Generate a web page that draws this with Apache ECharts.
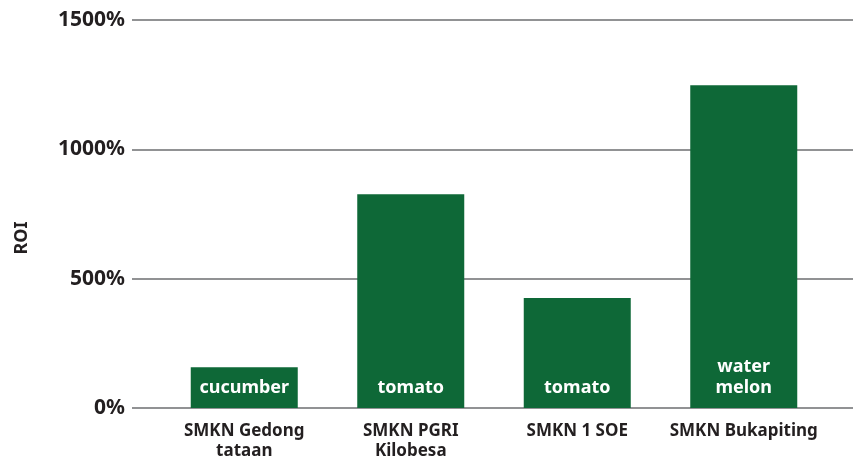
<!DOCTYPE html>
<html>
<head>
<meta charset="utf-8">
<script src="https://cdn.jsdelivr.net/npm/echarts@6/dist/echarts.min.js"></script>
<style>
  html, body { margin: 0; padding: 0; background: #fff; }
  #roiChart { width: 855px; height: 462px; }
</style>
</head>
<body>
<div id="roiChart"></div>
<script>
// data
var schools = ['SMKN Gedong\ntataan', 'SMKN PGRI\nKilobesa', 'SMKN 1 SOE', 'SMKN Bukapiting'];
var crops = ['cucumber', 'tomato', 'tomato', 'water\nmelon'];
var roiValues = [158, 826, 425, 1248];
var yTicks = [0, 500, 1000, 1500];

var textDark = '#231f20';
var barGreen = '#0e6837';
var fontFam = '"Noto Sans", "Open Sans", sans-serif';

var chart = echarts.init(document.getElementById('roiChart'));

var option = {
    animation: false,
    backgroundColor: '#fff',
    grid: [
        // bars
        { left: 161, right: 28, top: 20, bottom: 54 },
        // gridlines + tick labels (wider than the bar area)
        { left: 132, right: 2, top: 20, bottom: 54 }
    ],
    xAxis: [
        {
            type: 'category',
            gridIndex: 0,
            data: schools,
            axisLine: { show: false },
            axisTick: { show: false },
            axisLabel: {
                color: textDark,
                fontFamily: fontFam,
                fontSize: 17,
                fontWeight: 'bold',
                lineHeight: 20,
                margin: 13,
                interval: 0
            }
        },
        {
            type: 'value',
            gridIndex: 1,
            show: false
        }
    ],
    yAxis: [
        {
            type: 'value',
            gridIndex: 0,
            min: yTicks[0],
            max: yTicks[yTicks.length - 1],
            interval: 500,
            show: false
        },
        {
            type: 'value',
            gridIndex: 1,
            min: yTicks[0],
            max: yTicks[yTicks.length - 1],
            interval: 500,
            axisLine: { show: false },
            axisTick: { show: false },
            splitLine: { lineStyle: { color: '#6d6e71', width: 1.5 } },
            axisLabel: {
                formatter: function (v) { return v + '%'; },
                color: textDark,
                fontFamily: fontFam,
                fontSize: 21,
                fontWeight: 'bold',
                margin: 7
            }
        }
    ],
    graphic: [{
        type: 'text',
        x: 22,
        y: 238,
        rotation: Math.PI / 2,
        style: {
            text: 'ROI',
            fill: textDark,
            font: 'bold 18px ' + fontFam,
            align: 'center',
            verticalAlign: 'middle'
        }
    }],
    series: [{
        type: 'bar',
        xAxisIndex: 0,
        yAxisIndex: 0,
        data: roiValues,
        barWidth: 107,
        itemStyle: { color: barGreen },
        label: {
            show: true,
            position: 'insideBottom',
            distance: 10,
            formatter: function (p) { return crops[p.dataIndex]; },
            color: '#fff',
            fontFamily: fontFam,
            fontSize: 18,
            fontWeight: 'bold',
            lineHeight: 21
        }
    }]
};

chart.setOption(option);
</script>
</body>
</html>
